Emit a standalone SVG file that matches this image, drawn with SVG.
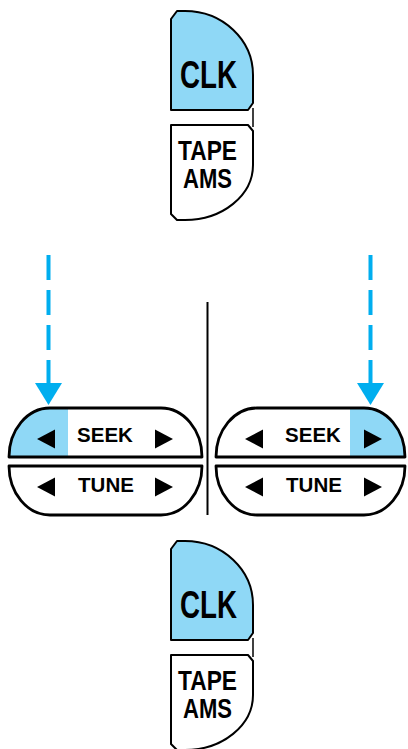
<svg xmlns="http://www.w3.org/2000/svg" width="408" height="749" viewBox="0 0 408 749">
  <style>
    .btn { fill: #ffffff; stroke: #000000; stroke-width: 2; stroke-linejoin: round; }
    .btnb { fill: none; stroke: #000000; stroke-width: 2.8; stroke-linejoin: round; }
    .hl { fill: #8fd8f6; stroke: none; }
    .lbl { font-family: "Liberation Sans", Arial, Helvetica, sans-serif; font-weight: bold; fill: #000000; text-anchor: middle; }
    .tri { fill: #000000; }
    .dash { stroke: #00aeef; stroke-width: 4; stroke-dasharray: 25 10; fill: none; }
    .head { fill: #00aeef; }
  </style>
  <defs>
    <g id="clkButton">
      <path d="M 171,19 L 177,11 L 185,11 A 68 64 0 0 1 253,75 L 253,103 L 248,110 L 171,110 Z" class="btn" style="fill:#8fd8f6"/>
      <line x1="253" y1="108" x2="253" y2="127" stroke="#000" stroke-width="1.5"/>
      <text x="208.5" y="88" class="lbl" font-size="39" textLength="57" lengthAdjust="spacingAndGlyphs">CLK</text>
      <path d="M 171,125 L 248,125 L 253,131 L 253,165 A 68 55 0 0 1 185,220 L 177,220 L 171,214 Z" class="btn"/>
      <text x="207.5" y="160" class="lbl" font-size="28" textLength="59" lengthAdjust="spacingAndGlyphs">TAPE</text>
      <text x="207.5" y="188" class="lbl" font-size="28" textLength="49" lengthAdjust="spacingAndGlyphs">AMS</text>
    </g>
  </defs>

  <g id="clk-tape-top">
    <use href="#clkButton"/>
  </g>

  <g id="left-seek-tune">
    <path d="M 9,457 A 41 49 0 0 1 50,408 L 161,408 A 41 49 0 0 1 202,457 Z" fill="#ffffff"/>
    <path d="M 9,457 A 41 49 0 0 1 50,408 L 68,408 L 68,457 Z" class="hl"/>
    <path d="M 9,457 A 41 49 0 0 1 50,408 L 161,408 A 41 49 0 0 1 202,457 Z" class="btnb"/>
    <polygon points="37,439 55,429.5 55,448.5" class="tri"/>
    <polygon points="173,439 155,429.5 155,448.5" class="tri"/>
    <text x="105" y="442" class="lbl" font-size="20.5">SEEK</text>
    <path d="M 9,466 L 202,466 A 41 49 0 0 1 161,515 L 50,515 A 41 49 0 0 1 9,466 Z" class="btnb" fill="#ffffff"/>
    <polygon points="37,487 55,477.5 55,496.5" class="tri"/>
    <polygon points="173,487 155,477.5 155,496.5" class="tri"/>
    <text x="106" y="492" class="lbl" font-size="20.5">TUNE</text>
  </g>

  <g id="right-seek-tune">
    <path d="M 216,457 A 41 49 0 0 1 257,408 L 364,408 A 41 49 0 0 1 405,457 Z" fill="#ffffff"/>
    <path d="M 350,408 L 364,408 A 41 49 0 0 1 405,457 L 350,457 Z" class="hl"/>
    <path d="M 216,457 A 41 49 0 0 1 257,408 L 364,408 A 41 49 0 0 1 405,457 Z" class="btnb"/>
    <polygon points="245,439 263,429.5 263,448.5" class="tri"/>
    <polygon points="382,439 364,429.5 364,448.5" class="tri"/>
    <text x="313" y="442" class="lbl" font-size="20.5">SEEK</text>
    <path d="M 216,466 L 405,466 A 41 49 0 0 1 364,515 L 257,515 A 41 49 0 0 1 216,466 Z" class="btnb" fill="#ffffff"/>
    <polygon points="245,487 263,477.5 263,496.5" class="tri"/>
    <polygon points="382,487 364,477.5 364,496.5" class="tri"/>
    <text x="314" y="492" class="lbl" font-size="20.5">TUNE</text>
  </g>

  <g id="divider">
    <line x1="207.5" y1="302" x2="207.5" y2="515" stroke="#000" stroke-width="2"/>
  </g>

  <g id="clk-tape-bottom">
    <use href="#clkButton" transform="translate(0,530)"/>
  </g>

  <g id="connectors">
    <line x1="48.5" y1="255" x2="48.5" y2="385" class="dash"/>
    <polygon points="35,383 62,383 48.5,405" class="head"/>
    <line x1="370.5" y1="255" x2="370.5" y2="385" class="dash"/>
    <polygon points="357,383 384,383 370.5,405" class="head"/>
  </g>
</svg>
